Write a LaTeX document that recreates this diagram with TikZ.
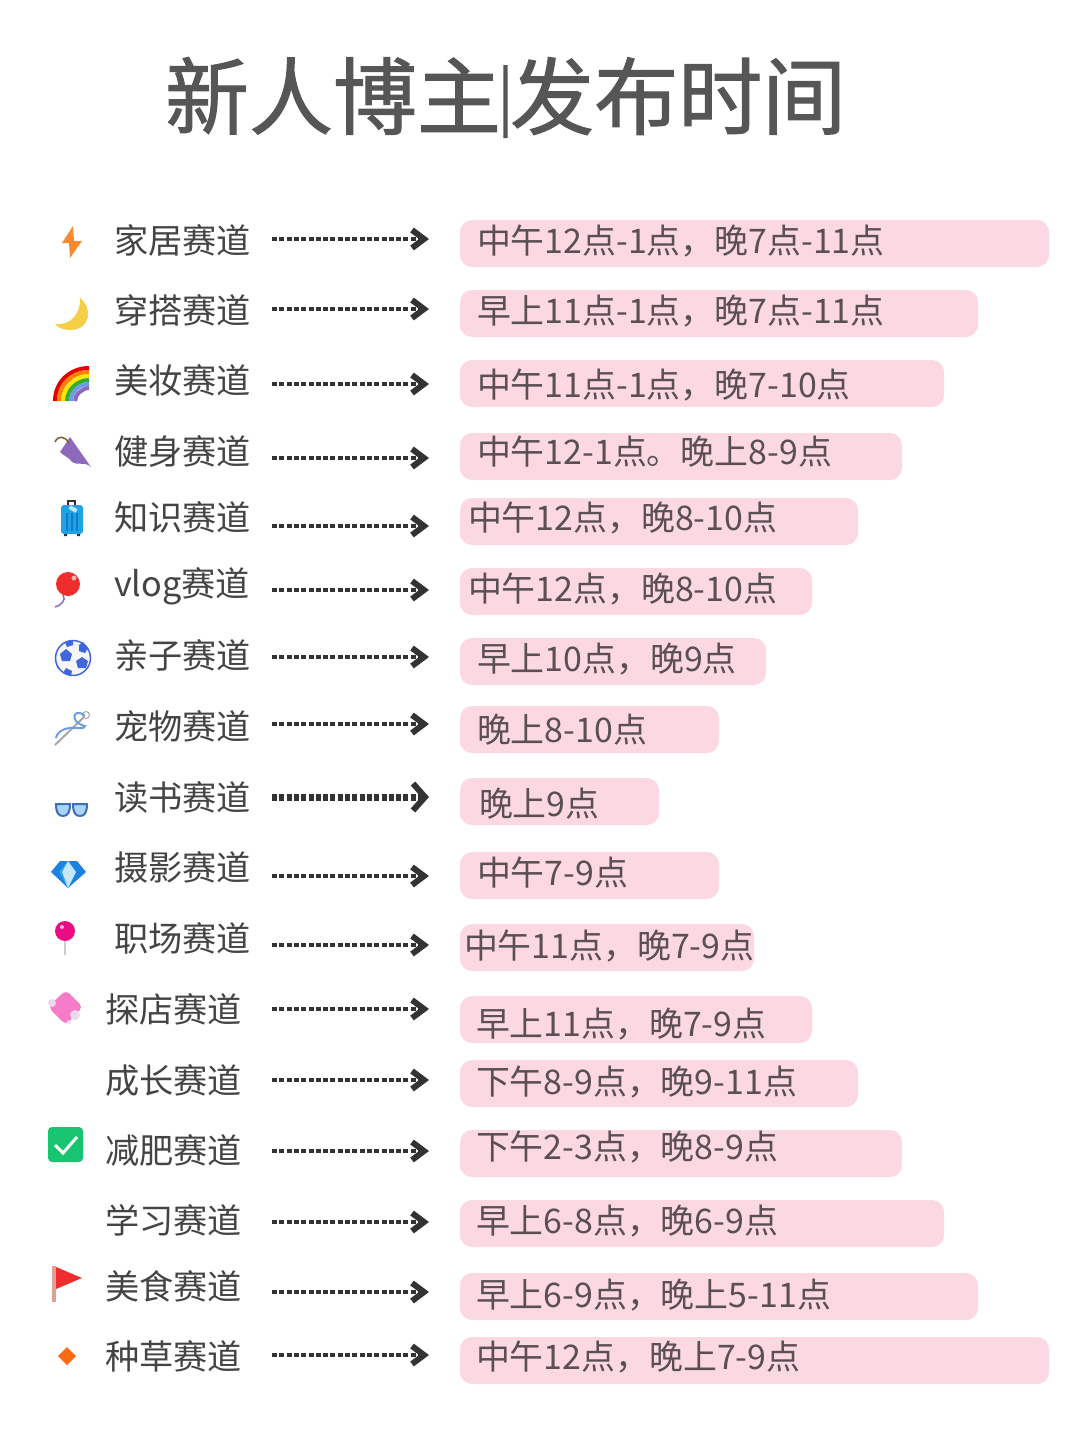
\documentclass[tikz,border=0pt]{standalone}
\usepackage{fontspec}
\setmainfont{Noto Sans CJK SC}
\newfontfamily\titlefont[FakeBold=1.2]{Noto Sans CJK SC}
\newfontfamily\pipefont[FakeBold=6]{Noto Sans CJK SC}
\usetikzlibrary{arrows.meta}
\definecolor{barpink}{HTML}{FCD8E2}
\definecolor{inkgrey}{HTML}{444444}
\definecolor{barink}{HTML}{5A4F53}
\definecolor{titlegrey}{HTML}{565656}
\definecolor{arrowgrey}{HTML}{333333}
\definecolor{boltorange}{HTML}{FA8A2E}
\definecolor{moonyellow}{HTML}{F6CE48}
\definecolor{brollypurple}{HTML}{8D69BE}
\definecolor{caseblue}{HTML}{1FA3E6}
\definecolor{casedark}{HTML}{0F7CC4}
\definecolor{balloonred}{HTML}{EF2D2D}
\definecolor{ballblue}{HTML}{3F66DC}
\definecolor{threadblue}{HTML}{6C9CE8}
\definecolor{lensblue}{HTML}{A9D4F8}
\definecolor{rimblue}{HTML}{3F6DB8}
\definecolor{gemblue}{HTML}{1B82E2}
\definecolor{gemlight}{HTML}{C6E6FA}
\definecolor{pinpink}{HTML}{EC0C82}
\definecolor{soappink}{HTML}{F77CC8}
\definecolor{checkgreen}{HTML}{17C46F}
\definecolor{polepink}{HTML}{DFA098}
\definecolor{dotorange}{HTML}{FC6A14}
\begin{document}
\begin{tikzpicture}[x=1pt,y=-1pt,inner sep=0pt,outer sep=0pt,>={Straight Barb[length=12pt,width=18pt,line width=6pt]},
timebar/.style={fill=barpink,rounded corners=12pt,minimum height=47pt,anchor=north west},
trackname/.style={anchor=west,font=\fontsize{34.2}{34}\selectfont,text=inkgrey,text height=29.6pt,text depth=4pt},
timetext/.style={anchor=west,font=\fontsize{33.9}{34}\selectfont,text=barink,text height=28.5pt,text depth=4pt},
dotarrow/.style={draw=arrowgrey,line width=4.5pt,dash pattern=on 5pt off 2.3pt}]

\useasboundingbox (0,0) rectangle (1080,1443);

\node[anchor=west,font=\titlefont\fontsize{84}{84}\selectfont,text=titlegrey,text height=74pt,text depth=10pt] (title) at (165,96) {新人博主\scalebox{.55}[1]{\raisebox{9pt}{\pipefont\fontsize{62}{62}\selectfont |}}发布时间};

% bars
\draw (460,220) node[timebar,minimum width=589pt] (bar1) {};
\draw (460,290) node[timebar,minimum width=518pt] (bar2) {};
\draw (460,360) node[timebar,minimum width=484pt] (bar3) {};
\draw (460,433) node[timebar,minimum width=442pt] (bar4) {};
\draw (460,498) node[timebar,minimum width=398pt] (bar5) {};
\draw (460,568) node[timebar,minimum width=352pt] (bar6) {};
\draw (460,638) node[timebar,minimum width=306pt] (bar7) {};
\draw (460,706) node[timebar,minimum width=259pt] (bar8) {};
\draw (460,778) node[timebar,minimum width=199pt] (bar9) {};
\draw (460,852) node[timebar,minimum width=259pt] (bar10) {};
\draw (460,924) node[timebar,minimum width=294pt] (bar11) {};
\draw (460,996) node[timebar,minimum width=352pt] (bar12) {};
\draw (460,1060) node[timebar,minimum width=398pt] (bar13) {};
\draw (460,1130) node[timebar,minimum width=442pt] (bar14) {};
\draw (460,1200) node[timebar,minimum width=484pt] (bar15) {};
\draw (460,1273) node[timebar,minimum width=518pt] (bar16) {};
\draw (460,1337) node[timebar,minimum width=589pt] (bar17) {};

% times
\draw (477,241) node[timetext] (time1) {中午12点-1点，晚7点-11点};
\draw (477,311) node[timetext] (time2) {早上11点-1点，晚7点-11点};
\draw (477,385) node[timetext] (time3) {中午11点-1点，晚7-10点};
\draw (477,452) node[timetext] (time4) {中午12-1点。晚上8-9点};
\draw (468,518) node[timetext] (time5) {中午12点，晚8-10点};
\draw (468,589) node[timetext] (time6) {中午12点，晚8-10点};
\draw (477,659) node[timetext] (time7) {早上10点，晚9点};
\draw (477,730) node[timetext] (time8) {晚上8-10点};
\draw (479,804) node[timetext] (time9) {晚上9点};
\draw (477,873) node[timetext] (time10) {中午7-9点};
\draw (464,946) node[timetext] (time11) {中午11点，晚7-9点};
\draw (476,1024) node[timetext] (time12) {早上11点，晚7-9点};
\draw (476,1082) node[timetext] (time13) {下午8-9点，晚9-11点};
\draw (476,1147) node[timetext] (time14) {下午2-3点，晚8-9点};
\draw (476,1221) node[timetext] (time15) {早上6-8点，晚6-9点};
\draw (476,1295) node[timetext] (time16) {早上6-9点，晚上5-11点};
\draw (476,1357) node[timetext] (time17) {中午12点，晚上7-9点};

% tracks
\draw (114,241) node[trackname] (track1) {家居赛道};
\draw (114,311) node[trackname] (track2) {穿搭赛道};
\draw (114,381) node[trackname] (track3) {美妆赛道};
\draw (114,452) node[trackname] (track4) {健身赛道};
\draw (114,518) node[trackname] (track5) {知识赛道};
\draw (114,584) node[trackname] (track6) {vlog赛道};
\draw (114,656) node[trackname] (track7) {亲子赛道};
\draw (114,727) node[trackname] (track8) {宠物赛道};
\draw (114,798) node[trackname] (track9) {读书赛道};
\draw (114,868) node[trackname] (track10) {摄影赛道};
\draw (114,939) node[trackname] (track11) {职场赛道};
\draw (105,1010) node[trackname] (track12) {探店赛道};
\draw (105,1081) node[trackname] (track13) {成长赛道};
\draw (105,1151) node[trackname] (track14) {减肥赛道};
\draw (105,1221) node[trackname] (track15) {学习赛道};
\draw (105,1287) node[trackname] (track16) {美食赛道};
\draw (105,1357) node[trackname] (track17) {种草赛道};

% arrows
\coordinate (a1) at (272,239);   \coordinate (b1) at (429,239);
\coordinate (a2) at (272,309);   \coordinate (b2) at (429,309);
\coordinate (a3) at (272,384);   \coordinate (b3) at (429,384);
\coordinate (a4) at (272,458);   \coordinate (b4) at (429,458);
\coordinate (a5) at (272,526);   \coordinate (b5) at (429,526);
\coordinate (a6) at (272,590);   \coordinate (b6) at (429,590);
\coordinate (a7) at (272,657);   \coordinate (b7) at (429,657);
\coordinate (a8) at (272,724);   \coordinate (b8) at (429,724);
\coordinate (a9) at (272,797);   \coordinate (b9) at (429,797);
\coordinate (a10) at (272,876);  \coordinate (b10) at (429,876);
\coordinate (a11) at (272,945);  \coordinate (b11) at (429,945);
\coordinate (a12) at (272,1009); \coordinate (b12) at (429,1009);
\coordinate (a13) at (272,1080); \coordinate (b13) at (429,1080);
\coordinate (a14) at (272,1151); \coordinate (b14) at (429,1151);
\coordinate (a15) at (272,1222); \coordinate (b15) at (429,1222);
\coordinate (a16) at (272,1292); \coordinate (b16) at (429,1292);
\coordinate (a17) at (272,1355); \coordinate (b17) at (429,1355);
\draw[dotarrow,->] (a1) -- (b1);
\draw[dotarrow,->] (a2) -- (b2);
\draw[dotarrow,->] (a3) -- (b3);
\draw[dotarrow,->] (a4) -- (b4);
\draw[dotarrow,->] (a5) -- (b5);
\draw[dotarrow,->] (a6) -- (b6);
\draw[dotarrow,->] (a7) -- (b7);
\draw[dotarrow,->] (a8) -- (b8);
\draw[dotarrow,line width=7pt,-{Straight Barb[length=12pt,width=27pt,line width=6pt]}] (a9) -- (b9);
\draw[dotarrow,->] (a10) -- (b10);
\draw[dotarrow,->] (a11) -- (b11);
\draw[dotarrow,->] (a12) -- (b12);
\draw[dotarrow,->] (a13) -- (b13);
\draw[dotarrow,->] (a14) -- (b14);
\draw[dotarrow,->] (a15) -- (b15);
\draw[dotarrow,->] (a16) -- (b16);
\draw[dotarrow,->] (a17) -- (b17);

% icons
\fill[boltorange] (73,226) -- (62,243) -- (69,243) -- (70,258) -- (82,241) -- (74,241) -- cycle;
\fill[moonyellow] (55,324) .. controls (71,326) and (81,313) .. (80,298) .. controls (93,308) and (91,330) .. (70,330) .. controls (64,330) and (58,328) .. (55,324) -- cycle;
\draw[red!90!black,line width=4pt] (55,401) .. controls (55,382) and (70,368) .. (89,368);
\draw[orange,line width=4pt] (59,401) .. controls (59,385) and (72,372) .. (89,372);
\draw[yellow!90!orange,line width=4pt] (63,401) .. controls (63,388) and (75,376) .. (89,376);
\draw[green!60!black!80,line width=4pt] (67,401) .. controls (67,390) and (77,380) .. (89,380);
\draw[threadblue,line width=4pt] (71,401) .. controls (71,392) and (79,384) .. (89,384);
\draw[brollypurple,line width=4pt] (75,401) .. controls (75,395) and (82,388) .. (89,388);
\fill[brollypurple] (70,437) -- (91,467) .. controls (85,461) and (77,466) .. (72,462) .. controls (69,457) and (65,457) .. (60,452) -- cycle;
\draw[brown!70!black,line width=1.5pt] (69,443) .. controls (65,436) and (58,435) .. (55,442);
\draw[arrowgrey,line width=1.5pt] (68,506) -- (68,501) -- (75,501) -- (75,506);
\fill[caseblue,rounded corners=3pt] (61,505) rectangle (83,534);
\fill[casedark] (66,513) rectangle (68,531) (71,513) rectangle (73,531) (76,513) rectangle (78,531);
\fill[gemlight,rotate around={-30:(73,509)}] (69,507) rectangle (77,511);
\fill[arrowgrey] (64,534) rectangle (67,536) (77,534) rectangle (80,536);
\fill[balloonred] (68,584) circle[radius=12pt];
\fill[red!30] (74,578) circle[radius=2.5pt];
\draw[brollypurple,line width=1.5pt] (63,595) .. controls (67,600) and (60,606) .. (55,607);
\draw[ballblue,fill=gray!8,line width=1.5pt] (73,658) circle[radius=17.5pt];
\fill[ballblue] (66,649) -- (72,654) -- (70,661) -- (62,661) -- (60,654) -- cycle;
\fill[ballblue] (82,657) -- (88,661) -- (86,668) -- (78,668) -- (76,661) -- cycle;
\fill[ballblue] (83,642) -- (88,648) -- (85,653) -- (79,651) -- (79,645) -- cycle;
\fill[ballblue] (65,642) -- (73,640) -- (73,645) -- (67,647) -- cycle;
\fill[ballblue] (66,668) -- (72,671) -- (71,676) -- (63,673) -- cycle;
\fill[ballblue] (56,664) -- (59,668) -- (58,669) -- cycle;
\draw[gray!70,line width=2pt] (55,745) -- (84,717);
\draw[gray!70,line width=1pt] (86,715) circle[radius=3.5pt];
\draw[threadblue,line width=2pt] (85,716) .. controls (74,706) and (68,722) .. (85,726) .. controls (84,732) and (66,722) .. (57,735) -- (56,738);
\draw[rimblue,fill=lensblue,line width=2pt] (56,804) -- (70,804) .. controls (70,812) and (68,816) .. (63,816) .. controls (58,816) and (56,812) .. (56,804) -- cycle;
\draw[rimblue,fill=lensblue,line width=2pt] (73,804) -- (87,804) .. controls (87,812) and (85,816) .. (80,816) .. controls (75,816) and (73,812) .. (73,804) -- cycle;
\fill[gemblue] (60,861) -- (77,861) -- (86,872) -- (68,888) -- (51,872) -- cycle;
\fill[gemlight] (68,861) -- (76,872) -- (68,888) -- (60,872) -- cycle;
\fill[caseblue] (68,861) -- (60,872) -- (68,888) -- (62,872) -- cycle;
\draw[gray!40,line width=2pt] (65,941) -- (65,955);
\fill[pinpink] (65,931) circle[radius=10pt];
\fill[white!70!pinpink] (62,927) circle[radius=2pt];
\fill[soappink,rounded corners=5pt] (66,990) -- (83,1007) -- (66,1025) -- (48,1007) -- cycle;
\fill[violet!15] (52,1003) circle[radius=4pt] (75,1015) circle[radius=5pt] (69,1022) circle[radius=2pt];
\fill[checkgreen,rounded corners=4pt] (48,1127) rectangle (83,1162);
\draw[white,line width=3pt] (55,1145) -- (63,1153) -- (77,1137);
\fill[polepink] (52,1266) rectangle (56,1302);
\fill[balloonred] (56,1267) -- (82,1278) -- (56,1289) -- cycle;
\fill[dotorange] (67,1347) -- (76,1356) -- (67,1365) -- (58,1356) -- cycle;
\end{tikzpicture}
\end{document}
